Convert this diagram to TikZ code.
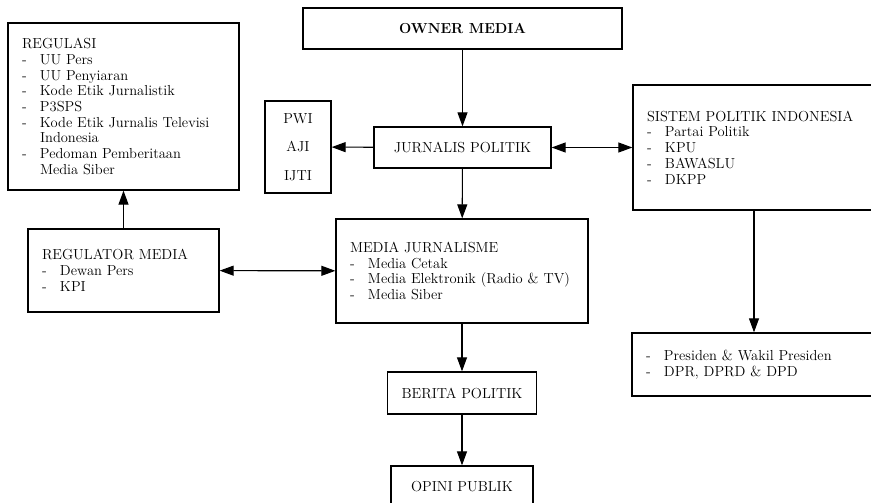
\documentclass[tikz,border=0pt]{standalone}
\usepackage{fontspec}
\usetikzlibrary{arrows.meta}
\newcommand{\li}[1]{\makebox[18pt][l]{-}#1}
\newcommand{\ind}[1]{\hspace*{18pt}#1}
\begin{document}
\begin{tikzpicture}[x=1pt,y=-1pt,
	box/.style={draw,line width=1.3pt,inner xsep=14pt,inner ysep=3pt,
		font=\fontsize{14.5pt}{15.7pt}\selectfont},
	lst/.style={box,align=left},
	arr/.style={line width=1.1pt,-{Triangle[length=14pt,width=10pt]}},
	darr/.style={line width=1.1pt,{Triangle[length=14pt,width=10pt]}-{Triangle[length=14pt,width=10pt]}}]
	\useasboundingbox (0,0) rectangle (871,503);
	\clip (0,0) rectangle (871,503);
	
	\node[box,minimum width=319pt,minimum height=41pt] (owner) at (462.5,28.5) {\textbf{OWNER MEDIA}};
	\node[box,minimum width=177pt,minimum height=41pt] (jurnalis) at (462.5,147.5) {JURNALIS POLITIK};
	\node[box,align=center,inner xsep=3pt,minimum width=66pt,minimum height=92pt] (pwi) at (298,147) {PWI\\[13pt]AJI\\[13pt]IJTI};
	\node[lst,text width=203pt,minimum height=167pt] (regulasi) at (123.5,106.5) {REGULASI\\
		\li{UU Pers}\\
		\li{UU Penyiaran}\\
		\li{Kode Etik Jurnalistik}\\
		\li{P3SPS}\\
		\li{Kode Etik Jurnalis Televisi}\\
		\ind{Indonesia}\\
		\li{Pedoman Pemberitaan}\\
		\ind{Media Siber}};
	\node[lst,text width=163pt,minimum height=83pt] (regulator) at (123.5,270.5) {REGULATOR MEDIA\\
		\li{Dewan Pers}\\
		\li{KPI}};
	\node[lst,text width=224pt,minimum height=104pt] (media) at (462,271) {MEDIA JURNALISME\\
		\li{Media Cetak}\\
		\li{Media Elektronik (Radio \& TV)}\\
		\li{Media Siber}};
	\node[lst,text width=214pt,minimum height=125pt] (sistem) at (754,147.5) {SISTEM POLITIK INDONESIA\\
		\li{Partai Politik}\\
		\li{KPU}\\
		\li{BAWASLU}\\
		\li{DKPP}};
	\node[lst,text width=216pt,minimum height=63pt] (presiden) at (754,364.5) {\li{Presiden \& Wakil Presiden}\\
		\li{DPR, DPRD \& DPD}};
	\node[box,minimum width=142pt,minimum height=42pt] (berita) at (462,393) {BERITA POLITIK};
	\node[box,minimum width=142pt,minimum height=42pt] (opini) at (462,487) {OPINI PUBLIK};
	
	% arrows
	\draw[arr] (owner) -- (jurnalis);
	\draw[arr] (jurnalis) -- (pwi);
	\draw[darr] (jurnalis) -- (sistem);
	\draw[arr] (jurnalis) -- (media);
	\draw[arr] (regulator) -- (regulasi);
	\draw[darr] (regulator) -- (media);
	\draw[arr] (media) -- (berita);
	\draw[arr] (berita) -- (opini);
	\draw[arr] (sistem) -- (presiden);
\end{tikzpicture}
\end{document}
